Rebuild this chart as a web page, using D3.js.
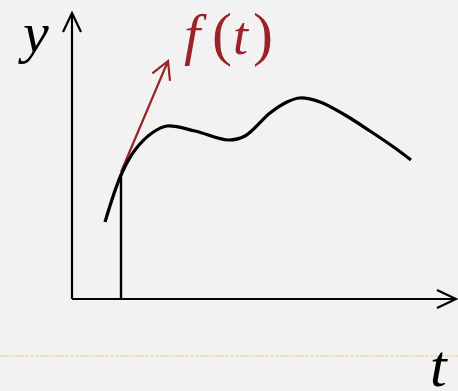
<!DOCTYPE html>
<html>
<head>
<meta charset="utf-8">
<script src="https://cdn.jsdelivr.net/npm/d3@7"></script>
<style>
  html, body { margin: 0; padding: 0; background: #f2f2f2; }
</style>
</head>
<body>
<div id="chart"></div>
<script>
// curve samples (t along the axis, y above the axis)
const tValues = [33, 49, 63, 80, 95, 123, 156, 173, 198, 215, 228, 248, 273, 298, 323, 339];
const yValues = [77, 124, 149, 166, 173, 168, 159, 163, 186, 197, 201, 197, 184, 168, 151, 139];

// point where the tangent is drawn, and where the tangent arrow ends
const tangentAt = [49, 127];
const tangentEnd = [96, 238];

const labels = {y: "y", t: "t", f: ["f", "(", "t", ")"]};

function drawChart() {
    const width = 458, height = 391;
    const origin = {x: 72, y: 299};

    const svg = d3.select("#chart")
        .append("svg")
        .attr("width", width)
        .attr("height", height);

    svg.append("rect")
        .attr("width", width).attr("height", height)
        .attr("fill", "#f2f2f2");

    // scales: one unit per pixel, axes meet at the origin
    const x = d3.scaleLinear().domain([0, 384]).range([origin.x, origin.x + 384]);
    const y = d3.scaleLinear().domain([0, 286]).range([origin.y, origin.y - 286]);

    // faint dashed guide line near the bottom
    svg.append("line")
        .attr("x1", 0).attr("x2", width)
        .attr("y1", 356).attr("y2", 356)
        .attr("stroke", "#f2d9a6")
        .attr("stroke-width", 1.5)
        .attr("stroke-dasharray", "4,1");

    // axes with open arrow heads
    const axes = svg.append("g")
        .attr("stroke", "#000")
        .attr("stroke-width", 2.2)
        .attr("fill", "none")
        .attr("stroke-linecap", "butt");

    axes.append("path")
        .attr("d", `M${x(0)},${y(0)} V${y(286)} M${x(0) - 9},${y(286) + 19} L${x(0)},${y(286)} L${x(0) + 9},${y(286) + 19}`);
    axes.append("path")
        .attr("d", `M${x(0)},${y(0)} H${x(384)} M${x(384) - 19},${y(0) - 9} L${x(384)},${y(0)} L${x(384) - 19},${y(0) + 9}`);

    // vertical drop from the tangent point
    svg.append("line")
        .attr("x1", x(tangentAt[0])).attr("x2", x(tangentAt[0]))
        .attr("y1", y(0)).attr("y2", y(tangentAt[1]) + 2)
        .attr("stroke", "#000")
        .attr("stroke-width", 2.4);

    // the curve
    const pts = tValues.map((t, i) => [t, yValues[i]]);
    const line = d3.line()
        .x(d => x(d[0]))
        .y(d => y(d[1]))
        .curve(d3.curveCatmullRom.alpha(0.5));

    // red tangent arrow
    const red = "#9b2226";
    const x0 = x(tangentAt[0]), y0 = y(tangentAt[1]);
    const x1 = x(tangentEnd[0]), y1 = y(tangentEnd[1]);
    const ang = Math.atan2(y1 - y0, x1 - x0);
    const len = 20, spread = 0.5;
    svg.append("path")
        .attr("d", `M${x0},${y0} L${x1},${y1}` +
            ` M${x1 - len * Math.cos(ang - spread)},${y1 - len * Math.sin(ang - spread)} L${x1},${y1}` +
            ` L${x1 - len * Math.cos(ang + spread)},${y1 - len * Math.sin(ang + spread)}`)
        .attr("fill", "none")
        .attr("stroke", red)
        .attr("stroke-width", 2.2);

    svg.append("path")
        .datum(pts)
        .attr("d", line)
        .attr("fill", "none")
        .attr("stroke", "#000")
        .attr("stroke-width", 3.2)
        .attr("stroke-linecap", "butt");

    // labels
    const font = "'Liberation Serif', 'DejaVu Serif', serif";
    svg.append("text")
        .attr("x", 23).attr("y", 52)
        .style("font-family", font).style("font-style", "italic")
        .style("font-size", "58px")
        .text(labels.y);

    // f(t): italic letters, upright brackets, one text per glyph
    const fParts = [
        {s: labels.f[0], x: 184, size: 58, italic: true},
        {s: labels.f[1], x: 212, size: 60, italic: false},
        {s: labels.f[2], x: 233, size: 54, italic: true},
        {s: labels.f[3], x: 253, size: 60, italic: false}
    ];
    svg.append("g")
        .attr("fill", red)
        .style("font-family", font)
        .selectAll("text")
        .data(fParts)
        .join("text")
        .attr("x", d => d.x)
        .attr("y", 54)
        .style("font-size", d => d.size + "px")
        .style("font-style", d => d.italic ? "italic" : "normal")
        .text(d => d.s);

    svg.append("text")
        .attr("x", 430).attr("y", 386)
        .style("font-family", font).style("font-style", "italic")
        .style("font-size", "60px")
        .text(labels.t);
}

drawChart();
</script>
</body>
</html>
